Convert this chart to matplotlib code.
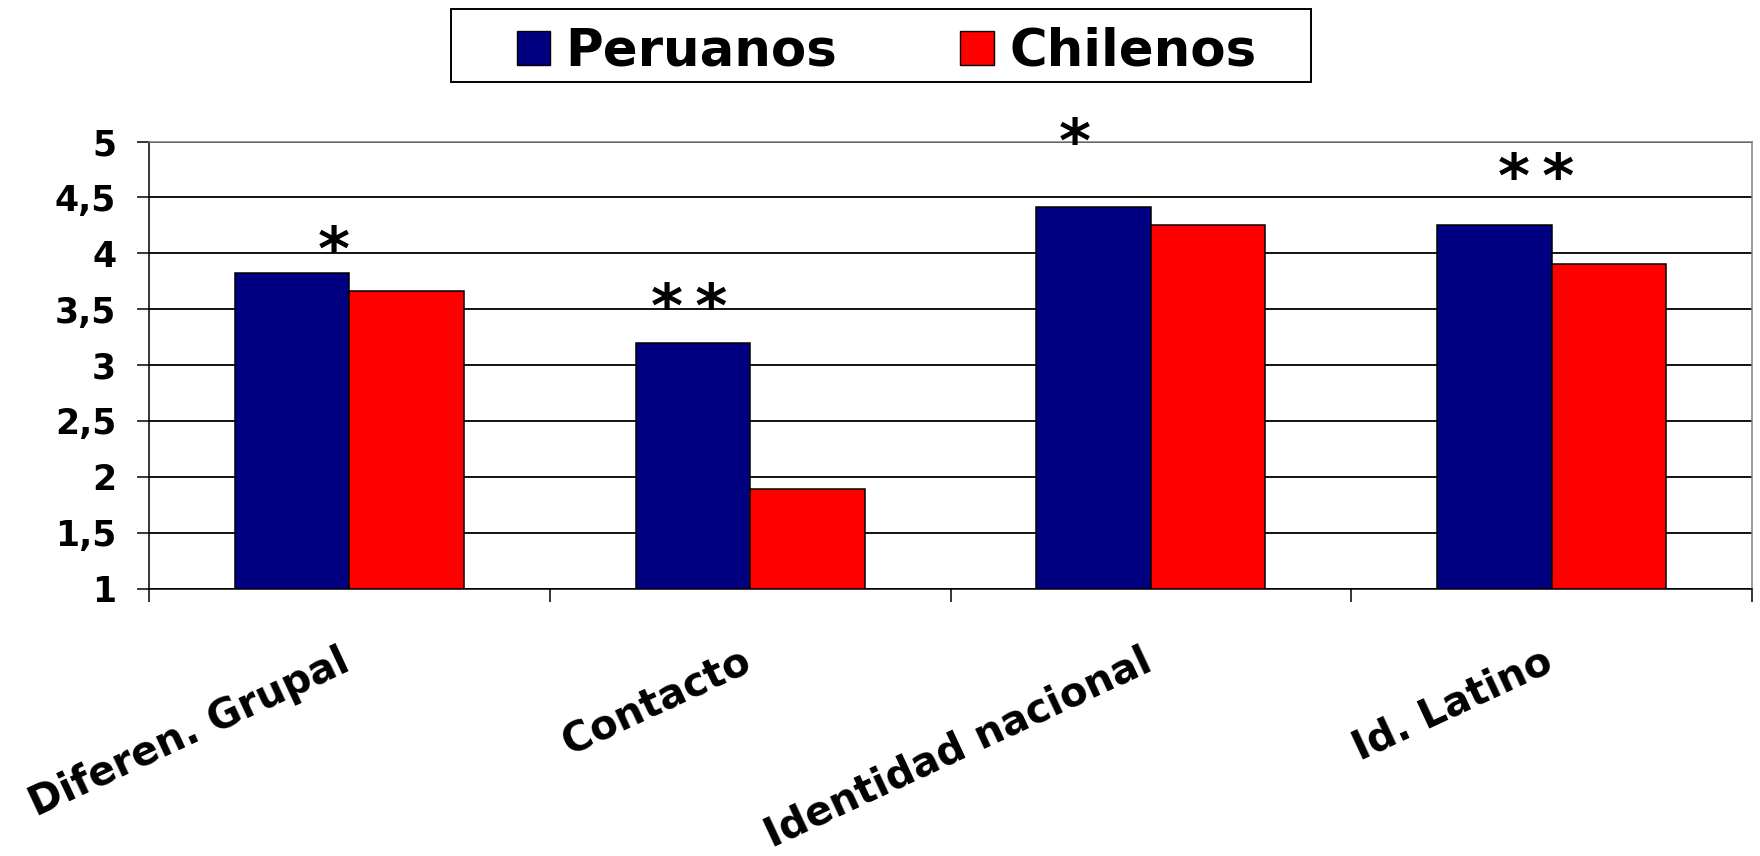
import matplotlib
matplotlib.use("Agg")
import matplotlib.pyplot as plt
from matplotlib.patches import Patch, Rectangle
import numpy as np

plt.rcParams['font.family'] = ['DejaVu Sans']
plt.rcParams['font.weight'] = 'bold'

categories = ["Diferen. Grupal", "Contacto", "Identidad nacional", "Id. Latino"]
series_names = ["Peruanos", "Chilenos"]
peruanos = [3.82, 3.20, 4.41, 4.25]
chilenos = [3.66, 1.89, 4.25, 3.90]
colors = ["#000080", "#FF0000"]
y_ticks = [1, 1.5, 2, 2.5, 3, 3.5, 4, 4.5, 5]
y_tick_labels = ["1", "1,5", "2", "2,5", "3", "3,5", "4", "4,5", "5"]
star_labels = ["*", "*\u2009*", "*", "*\u2009*"]
star_x_offsets = [-0.039, -0.152, -0.19, -0.039]
star_y = [4.16, 3.65, 5.13, 4.82]

W, H = 1760, 856
fig = plt.figure(figsize=(W / 100, H / 100), dpi=100)
ax = fig.add_axes([149 / W, 1 - 588.5 / H, 1603 / W, 447 / H])

x = np.arange(len(categories))
bw = 0.286
ax.bar(x - bw / 2, peruanos, bw, bottom=0, color=colors[0], edgecolor="black",
       linewidth=1.1, zorder=2)
ax.bar(x + bw / 2, chilenos, bw, bottom=0, color=colors[1], edgecolor="black",
       linewidth=1.1, zorder=2)

ax.set_xlim(-0.5, len(categories) - 0.5)
ax.set_ylim(1, 5)

# grid
ax.set_axisbelow(True)
ax.yaxis.grid(True, color="black", linewidth=1.3)
ax.xaxis.grid(False)

# y ticks
ax.set_yticks(y_ticks)
ax.set_yticklabels(y_tick_labels, fontsize=25, fontweight="bold")
ax.tick_params(axis="y", direction="out", length=8.6, width=1.1, pad=15, colors="black")

# x ticks: boundaries only
ax.set_xticks([])
ax.set_xticks(np.arange(len(categories) + 1) - 0.5, minor=True)
ax.tick_params(axis="x", which="minor", direction="out", length=9.4, width=1.1)
ax.tick_params(axis="x", which="major", length=0)

for s in ["left", "bottom"]:
    ax.spines[s].set_color("black")
    ax.spines[s].set_linewidth(1.1)
for s in ["top", "right"]:
    ax.spines[s].set_color("#808080")
    ax.spines[s].set_linewidth(1.1)

# category labels
for i, lab in enumerate(categories):
    ax.annotate(lab, xy=(x[i], 0), xycoords=("data", "axes fraction"),
                xytext=(-10, -53), textcoords="offset pixels",
                rotation=25, rotation_mode="anchor", ha="right", va="top",
                fontsize=29, fontweight="bold", annotation_clip=False)

# significance stars
for i, (s, dx, yy) in enumerate(zip(star_labels, star_x_offsets, star_y)):
    ax.annotate(s, xy=(x[i] + dx, yy), xycoords="data",
                xytext=(0, -35), textcoords="offset pixels",
                ha="center", va="baseline", fontsize=44, fontweight="bold",
                annotation_clip=False)

# legend
handles = [Patch(facecolor=colors[0], edgecolor="black", linewidth=1.0),
           Patch(facecolor=colors[1], edgecolor="black", linewidth=1.0)]
leg = fig.legend(handles, series_names, loc="center",
                 bbox_to_anchor=(886.5 / W, 1 - 52 / H), ncol=2, frameon=False,
                 prop={"size": 37, "weight": "bold"}, handlelength=0.65,
                 handleheight=0.65, handletextpad=0.3, columnspacing=2.4,
                 borderpad=0.1)
fig.patches.append(Rectangle((450.7 / W, 1 - 81.7 / H), (1311 - 450.7) / W, 72.4 / H,
                             transform=fig.transFigure, fill=False,
                             edgecolor="black", linewidth=1.4))

fig.savefig("out.png", dpi=100)
